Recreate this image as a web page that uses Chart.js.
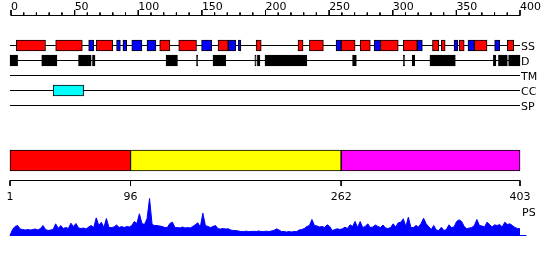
<!DOCTYPE html>
<html>
<head>
<meta charset="utf-8">
<script src="https://cdn.jsdelivr.net/npm/chart.js@4.4.1/dist/chart.umd.min.js"></script>
<style>
  html, body { margin: 0; padding: 0; background: #fff; }
  canvas { display: block; }
</style>
</head>
<body>
<canvas id="chart" width="550" height="260"></canvas>
<script>
// sequence length and ruler
const seqLength = 403;
const rulerMax = 400;
const rulerLabels = [0, 50, 100, 150, 200, 250, 300, 350, 400];

// secondary structure (residue ranges): helices red, strands blue
const ssHelix = [[6, 29], [37, 58], [69, 82], [119, 127], [134, 148], [165, 173], [195, 199],
  [228, 232], [237, 248], [262, 273], [277, 285], [293, 307], [311, 322], [334, 339],
  [341, 344], [355, 359], [367, 377], [393, 398]];
const ssStrand = [[63, 67], [85, 88], [90, 93], [97, 105], [109, 116], [152, 160], [173, 179],
  [181, 183], [258, 262], [288, 293], [322, 326], [351, 354], [362, 367], [383, 387]];
// disorder
const disorder = [[1, 7], [26, 38], [55, 65], [66, 68], [124, 133], [148, 149], [161, 171],
  [194, 195], [196, 198], [202, 235], [271, 274], [311, 312], [318, 320], [332, 352],
  [382, 384], [386, 393], [394, 403]];
const transmembrane = [];
const coiledCoil = [[35, 59]];
const signalPeptide = [];

const trackNames = ['SS', 'D', 'TM', 'CC', 'SP'];

// domain boundaries
const domainBounds = [1, 96, 262, 403];
const domainColors = ['#ff0000', '#ffff00', '#ff00ff'];

// PS profile, one value every 2 residues starting at residue 1
const psStep = 2;
const psValues = [
  0, 6, 9, 10, 6.5, 6, 5.5, 6, 5.5, 6,
  6.5, 5.5, 7, 10, 6, 5, 5.5, 6, 11.7, 7,
  10, 7, 8, 7, 12.3, 9, 12, 7.5, 7, 7.5,
  6.5, 8.5, 10, 8, 17.7, 10, 13.3, 8, 17, 8,
  8, 8.5, 10.5, 8, 9, 8, 9, 8.5, 10, 14,
  12, 21.7, 12, 11, 16.7, 37, 11, 10, 10, 9.5,
  9, 8, 8, 12, 13.3, 8, 8, 7.5, 8.5, 7.5,
  8, 7.5, 9, 10.7, 12.7, 8.5, 22.3, 10, 9, 8,
  9, 10, 6.7, 6.5, 7, 6.5, 6.7, 5.5, 5, 5,
  4.5, 4, 4, 4.3, 4, 4, 4.2, 4, 4.5, 4,
  4, 4.3, 4, 4.5, 5, 6.7, 5.5, 4, 4, 3.5,
  4, 3.5, 4, 4, 5.5, 6, 7, 9, 10, 16,
  10, 9.5, 8.5, 9, 8, 10.7, 9, 5, 6, 6.7,
  6, 6.7, 8.3, 7, 10.7, 9, 14, 8, 14, 8,
  9, 11.7, 8, 8.5, 10.5, 9, 8, 10.5, 7.5, 7,
  8, 11.7, 8.5, 12.7, 13.3, 16.7, 9, 18.3, 8, 8,
  10, 8.5, 12, 17.3, 11.7, 9, 6, 10, 5.5, 5,
  8.3, 5, 6, 10.7, 8, 8.5, 14, 15.7, 14, 9,
  6.7, 7.5, 8, 10, 16, 10, 9.5, 8.5, 13.3, 11,
  8.5, 10.7, 10, 11, 8.5, 13.3, 11, 11.7, 10, 8,
  7, 6.7
];

// layout rows (pixel rows on the y scale)
const rulerY = 15.5;
const rowY = [45.5, 60.5, 75.5, 90.5, 105.5];
const domainY = 160.5;
const domainAxisY = 180.5;

function boxes(ranges, y) {
  return ranges.map(r => ({ x: r, y: y }));
}
function barSet(data, color, thickness) {
  return {
    type: 'bar', indexAxis: 'y', xAxisID: 'xr', yAxisID: 'y', data: data,
    backgroundColor: color, borderColor: '#000', borderWidth: 1, borderSkipped: false,
    barThickness: thickness, grouped: false, order: 1
  };
}
function lineSet(data, xId, yId, color) {
  return {
    type: 'line', xAxisID: xId, yAxisID: yId, data: data, borderColor: color || '#000',
    borderWidth: 1, pointRadius: 0, fill: false, spanGaps: false, tension: 0, order: 2
  };
}

// ruler ticks
const rulerTicks = [];
for (let v = 0; v <= rulerMax; v += 10) {
  const top = rulerLabels.includes(v) ? 10 : 12.5;
  rulerTicks.push({ x: v, y: top }, { x: v, y: rulerY }, { x: v, y: null });
}
const domainTicks = [];
domainBounds.forEach(v => domainTicks.push({ x: v, y: domainAxisY }, { x: v, y: 186 }, { x: v, y: null }));

const domainBars = [];
for (let i = 0; i < domainBounds.length - 1; i++) {
  domainBars.push({ x: [domainBounds[i], domainBounds[i + 1]], y: domainY });
}

const psPoints = psValues.map((v, i) => ({ x: 1 + i * psStep, y: v }));

const textPlugin = {
  id: 'texts',
  afterDatasetsDraw(chart) {
    const ctx = chart.ctx;
    const xs = chart.scales.x, xr = chart.scales.xr, ys = chart.scales.y;
    ctx.save();
    ctx.fillStyle = '#000';
    ctx.font = '11px "DejaVu Sans"';
    ctx.textBaseline = 'alphabetic';
    ctx.textAlign = 'left';
    rulerLabels.forEach(v => ctx.fillText(String(v), xs.getPixelForValue(v), 10));
    const endX = xr.getPixelForValue(seqLength);
    trackNames.forEach((n, i) => ctx.fillText(n, endX + 1, ys.getPixelForValue(rowY[i]) + 4));
    ctx.fillText('PS', endX + 2, 215.5);
    ctx.textAlign = 'center';
    domainBounds.forEach(v => ctx.fillText(String(v), xr.getPixelForValue(v), 200));
    ctx.restore();
  }
};

new Chart(document.getElementById('chart'), {
  type: 'line',
  data: {
    datasets: [
      barSet(boxes(ssHelix, rowY[0]), '#ff0000', 11),
      barSet(boxes(ssStrand, rowY[0]), '#0000ff', 11),
      barSet(boxes(disorder, rowY[1]), '#000000', 11),
      barSet(boxes(transmembrane, rowY[2]), '#00ff00', 11),
      barSet(boxes(coiledCoil, rowY[3]), '#00ffff', 11),
      barSet(boxes(signalPeptide, rowY[4]), '#ff8800', 11),
      barSet(domainBars, domainColors, 21),
      lineSet([{ x: 0, y: rulerY }, { x: rulerMax, y: rulerY }], 'x', 'y'),
      lineSet(rulerTicks, 'x', 'y'),
      ...rowY.map(y => lineSet([{ x: 1, y: y }, { x: seqLength, y: y }], 'xr', 'y')),
      lineSet([{ x: 1, y: domainAxisY }, { x: seqLength, y: domainAxisY }], 'xr', 'y'),
      lineSet(domainTicks, 'xr', 'y'),
      lineSet([{ x: 1, y: 0 }, { x: 408, y: 0 }], 'xr', 'yPS', '#0000ff'),
      {
        type: 'line', xAxisID: 'xr', yAxisID: 'yPS', data: psPoints,
        borderColor: '#0000ff', backgroundColor: '#0000ff', borderWidth: 1,
        pointRadius: 0, fill: 'origin', tension: 0, order: 3
      }
    ]
  },
  options: {
    responsive: false,
    animation: false,
    events: [],
    layout: { padding: 0 },
    plugins: { legend: { display: false }, tooltip: { enabled: false }, title: { display: false } },
    scales: {
      // ruler: 0 at px 11, 400 at px 520
      x: { type: 'linear', display: false, offset: false, min: -11 / 1.2725, max: (550 - 11) / 1.2725 },
      // residues: 1 at px 10, 403 at px 520
      xr: { type: 'linear', display: false, offset: false, min: 1 - 10 / 1.2687, max: 1 + 540 / 1.2687 },
      y: { type: 'linear', display: false, offset: false, min: 0, max: 260, reverse: true },
      yPS: { type: 'linear', display: false, offset: false, min: -24.5, max: 235.5 }
    }
  },
  plugins: [textPlugin]
});
</script>
</body>
</html>
